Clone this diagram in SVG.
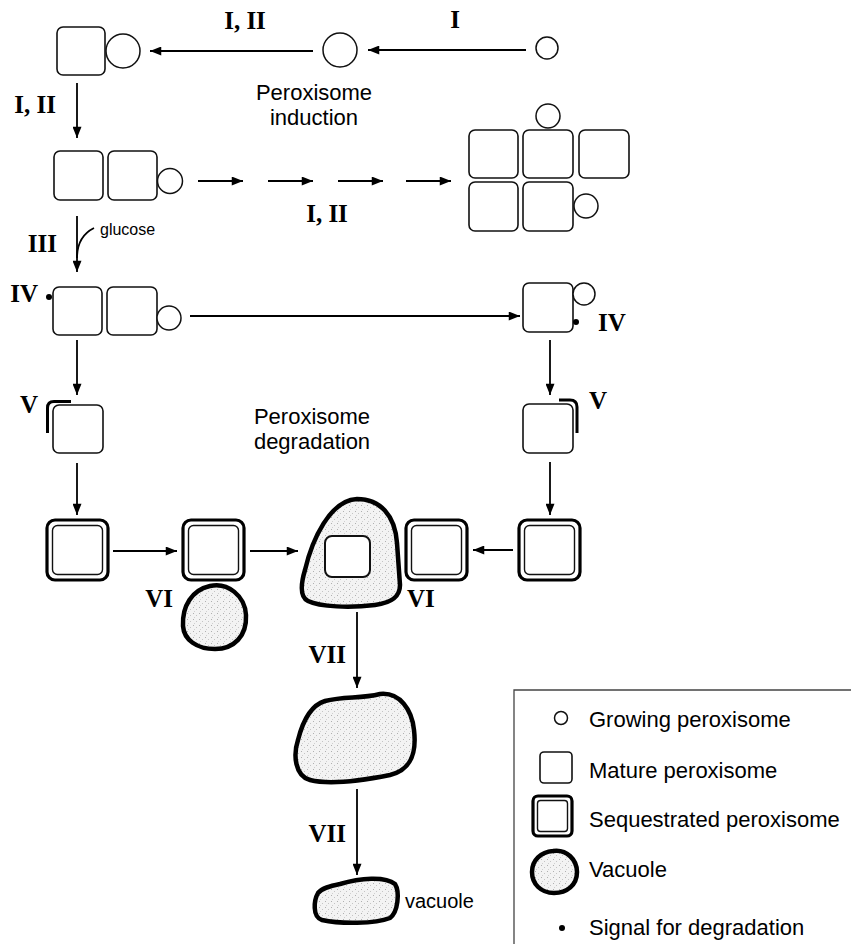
<svg xmlns="http://www.w3.org/2000/svg" width="858" height="944" viewBox="0 0 858 944">
<style>
.sq{fill:#fff;stroke:#111;stroke-width:1.6}
.ci{fill:#fff;stroke:#111;stroke-width:1.5}
.so{fill:#fff;stroke:#000;stroke-width:3.2}
.si{fill:#fff;stroke:#111;stroke-width:1.4}
.vac{fill:url(#stip);stroke:#000;stroke-width:4.5;stroke-linejoin:round}
.dot{fill:#000}
.br{fill:none;stroke:#000;stroke-width:3}
.num{font-family:"Liberation Serif","Times New Roman",serif;font-weight:bold;font-size:25px;fill:#000}
.lbl{font-family:"Liberation Sans",Arial,sans-serif;font-size:22px;fill:#000}
.sm{font-family:"Liberation Sans",Arial,sans-serif;font-size:16px;fill:#000}
.conn line,.conn path{stroke:#000;stroke-width:1.8;fill:none}
.conn .a{marker-end:url(#ah)}
</style>
<defs>
<marker id="ah" viewBox="0 0 10 8" refX="10" refY="4" markerWidth="12" markerHeight="9" markerUnits="userSpaceOnUse" orient="auto"><path d="M0,0 L10,4 L0,8 z" fill="#000"/></marker>
<pattern id="stip" width="6" height="6" patternUnits="userSpaceOnUse"><rect width="6" height="6" fill="#f3f3f3"/><rect x="1" y="1" width="1" height="1" fill="#b0b0b0"/><rect x="4" y="3" width="1" height="1" fill="#c4c4c4"/><rect x="2" y="5" width="1" height="1" fill="#d0d0d0"/></pattern>
</defs>
<rect width="858" height="944" fill="#fff"/>

<g class="conn">
<line class="a" x1="313" y1="51" x2="150" y2="51"/>
<line class="a" x1="526" y1="50" x2="368" y2="50"/>
<line class="a" x1="77" y1="83" x2="77" y2="138"/>
<line class="a" x1="198" y1="181" x2="243" y2="181"/>
<line class="a" x1="268" y1="181" x2="313" y2="181"/>
<line class="a" x1="338" y1="181" x2="383" y2="181"/>
<line class="a" x1="406" y1="181" x2="451" y2="181"/>
<line class="a" x1="77" y1="216" x2="77" y2="272"/>
<path d="M94 228 C82 234 77 245 77 258"/>
<line class="a" x1="190" y1="316" x2="520" y2="316"/>
<line class="a" x1="77" y1="340" x2="77" y2="395"/>
<line class="a" x1="550" y1="340" x2="550" y2="395"/>
<line class="a" x1="77" y1="463" x2="77" y2="515"/>
<line class="a" x1="550" y1="462" x2="550" y2="515"/>
<line class="a" x1="113" y1="551" x2="177" y2="551"/>
<line class="a" x1="250" y1="551" x2="298" y2="551"/>
<line class="a" x1="513" y1="550" x2="473" y2="550"/>
<line class="a" x1="357" y1="612" x2="357" y2="688"/>
<line class="a" x1="357" y1="789" x2="357" y2="875"/>
</g>

<g id="n1">
<rect class="sq" x="57" y="27" width="48" height="48" rx="6"/>
<circle class="ci" cx="123" cy="51" r="17"/>
</g>
<g id="n2"><circle class="ci" cx="340" cy="50" r="17"/></g>
<g id="n3"><circle class="ci" cx="547" cy="48" r="11"/></g>

<g id="n4">
<rect class="sq" x="54" y="151" width="49" height="49" rx="6"/>
<rect class="sq" x="108" y="151" width="49" height="49" rx="6"/>
<circle class="ci" cx="170" cy="181" r="12.5"/>
</g>

<g id="n5">
<rect class="sq" x="469" y="130" width="49" height="48" rx="6"/>
<rect class="sq" x="523" y="130" width="50" height="48" rx="6"/>
<rect class="sq" x="579" y="130" width="50" height="48" rx="6"/>
<rect class="sq" x="469" y="182" width="49" height="49" rx="6"/>
<rect class="sq" x="523" y="182" width="50" height="49" rx="6"/>
<circle class="ci" cx="548" cy="116" r="12"/>
<circle class="ci" cx="586" cy="206" r="12"/>
</g>

<g id="n6">
<circle class="dot" cx="49" cy="297" r="3"/>
<rect class="sq" x="53" y="287" width="49" height="48" rx="6"/>
<rect class="sq" x="107" y="287" width="50" height="48" rx="6"/>
<circle class="ci" cx="169" cy="318" r="12"/>
</g>

<g id="n7">
<rect class="sq" x="523" y="283" width="50" height="49" rx="6"/>
<circle class="ci" cx="584" cy="294" r="11"/>
<circle class="dot" cx="576" cy="322" r="3"/>
</g>

<g id="n8">
<rect class="sq" x="53" y="405" width="50" height="48" rx="6"/>
<path class="br" d="M47.5 433 L47.5 408 Q47.5 401.5 54 401.5 L71 401.5"/>
</g>
<g id="n9">
<rect class="sq" x="523" y="404" width="50" height="49" rx="6"/>
<path class="br" d="M559 400 L570 400 Q577 400 577 407 L577 433"/>
</g>

<g id="n10">
<rect class="so" x="47" y="520" width="61" height="60" rx="8"/>
<rect class="si" x="52.5" y="525.5" width="50" height="49" rx="5"/>
</g>
<g id="n11">
<rect class="so" x="183" y="520" width="61" height="60" rx="8"/>
<rect class="si" x="188.5" y="525.5" width="50" height="49" rx="5"/>
</g>
<g id="n12">
<path class="vac" d="M357 499 C380 499 395 515 397 543 L400 585 C400 598 390 603 375 605 C350 608 320 607 308 601 C298 596 302 580 305 570 C312 540 330 500 357 499 Z"/>
<rect class="sq" x="325" y="536" width="45" height="41" rx="7" style="stroke-width:2"/>
</g>
<g id="n13">
<rect class="so" x="406" y="520" width="61" height="60" rx="8"/>
<rect class="si" x="411.5" y="525.5" width="50" height="49" rx="5"/>
</g>
<g id="n14">
<rect class="so" x="519" y="520" width="61" height="60" rx="8"/>
<rect class="si" x="524.5" y="525.5" width="50" height="49" rx="5"/>
</g>
<g id="n15">
<path class="vac" d="M210 586 C228 582 245 596 246 615 C247 636 234 649 215 649 C197 649 184 640 183 626 C182 606 192 590 210 586 Z"/>
</g>
<g id="n16">
<path class="vac" d="M325 701 C345 696 360 699 380 694 C400 692 412 710 414 730 C417 755 410 770 390 775 C360 781 330 785 310 780 C295 776 293 755 298 740 C303 720 312 705 325 701 Z"/>
</g>
<g id="n17">
<path class="vac" d="M340 884 C360 878 385 876 395 884 C400 892 398 912 390 918 C375 924 340 924 322 920 C312 917 314 900 318 893 C322 888 330 886 340 884 Z"/>
<text x="405" y="908" class="lbl" style="font-size:20px">vacuole</text>
</g>

<g id="labels">
<text x="245" y="29" class="num" text-anchor="middle">I, II</text>
<text x="455" y="28" class="num" text-anchor="middle">I</text>
<text x="314" y="100" class="lbl" text-anchor="middle">Peroxisome</text>
<text x="314" y="125" class="lbl" text-anchor="middle">induction</text>
<text x="56" y="113" class="num" text-anchor="end">I, II</text>
<text x="327" y="222" class="num" text-anchor="middle">I, II</text>
<text x="100" y="235" class="sm">glucose</text>
<text x="57" y="252" class="num" text-anchor="end">III</text>
<text x="38" y="302" class="num" text-anchor="end">IV</text>
<text x="598" y="331" class="num">IV</text>
<text x="38" y="413" class="num" text-anchor="end">V</text>
<text x="589" y="409" class="num">V</text>
<text x="312" y="424" class="lbl" text-anchor="middle">Peroxisome</text>
<text x="312" y="449" class="lbl" text-anchor="middle">degradation</text>
<text x="173" y="607" class="num" text-anchor="end">VI</text>
<text x="407" y="607" class="num">VI</text>
<text x="346" y="663" class="num" text-anchor="end">VII</text>
<text x="346" y="842" class="num" text-anchor="end">VII</text>
</g>

<g id="legend">
<path d="M851 690 L514 690 L514 944" fill="none" stroke="#444" stroke-width="1.3"/>
<circle class="ci" cx="561" cy="718" r="6.5"/>
<text x="589" y="727" class="lbl">Growing peroxisome</text>
<rect class="sq" x="540" y="752" width="32" height="31" rx="4"/>
<text x="589" y="778" class="lbl">Mature peroxisome</text>
<rect class="so" x="533" y="796" width="39" height="40" rx="5"/>
<rect class="si" x="537.5" y="800.5" width="30" height="31" rx="3"/>
<text x="589" y="827" class="lbl">Sequestrated peroxisome</text>
<path class="vac" d="M553 851 C567 849 577 860 577 872 C577 885 567 893 554 893 C541 893 532 884 532 872 C532 860 541 852 553 851 Z"/>
<text x="589" y="877" class="lbl">Vacuole</text>
<circle class="dot" cx="562" cy="928" r="3"/>
<text x="589" y="935" class="lbl">Signal for degradation</text>
</g>
</svg>
